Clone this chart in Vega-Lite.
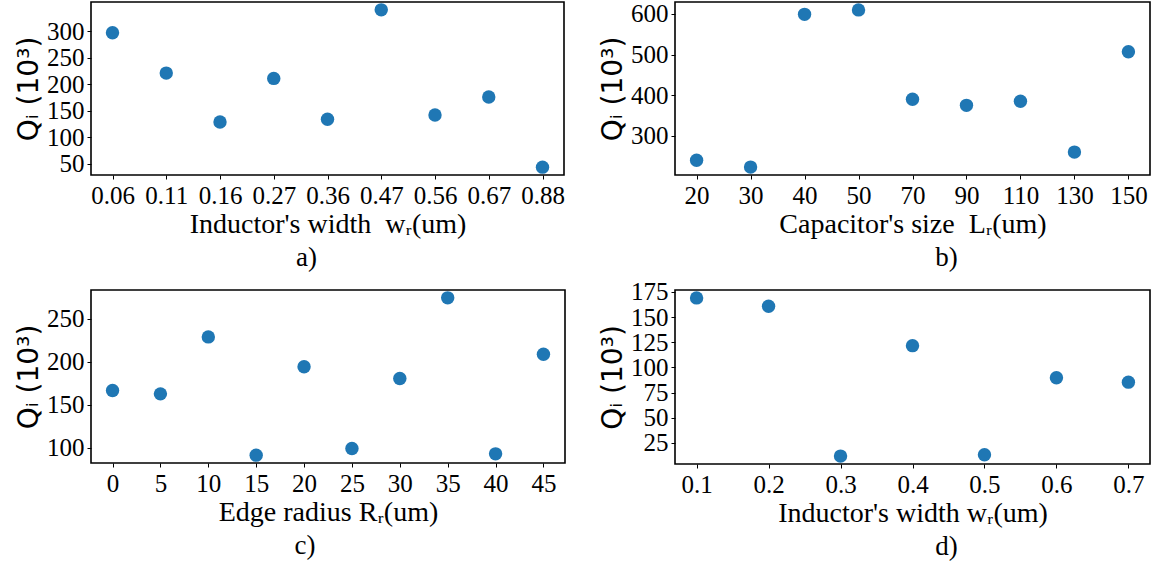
{
  "$schema": "https://vega.github.io/schema/vega-lite/v6.json",
  "padding": {"left": 14, "top": 1, "right": 4, "bottom": 2},
  "background": "white",
  "bounds": "flush",
  "columns": 2,
  "spacing": {"column": 110, "row": 115},
  "datasets": {
    "a": [
      {"w": "0.06", "q": 297}, {"w": "0.11", "q": 221}, {"w": "0.16", "q": 129},
      {"w": "0.27", "q": 211}, {"w": "0.36", "q": 134}, {"w": "0.47", "q": 340},
      {"w": "0.56", "q": 142}, {"w": "0.67", "q": 176}, {"w": "0.88", "q": 44}
    ],
    "b": [
      {"L": "20", "q": 240}, {"L": "30", "q": 223}, {"L": "40", "q": 599},
      {"L": "50", "q": 610}, {"L": "70", "q": 390}, {"L": "90", "q": 375},
      {"L": "110", "q": 385}, {"L": "130", "q": 260}, {"L": "150", "q": 507}
    ],
    "c": [
      {"R": 0, "q": 166.5}, {"R": 5, "q": 162.6}, {"R": 10, "q": 228.7},
      {"R": 15, "q": 91.5}, {"R": 20, "q": 194}, {"R": 25, "q": 99.2},
      {"R": 30, "q": 180.4}, {"R": 35, "q": 274}, {"R": 40, "q": 93},
      {"R": 45, "q": 208.6}
    ],
    "d": [
      {"w": 0.1, "q": 169}, {"w": 0.2, "q": 160.7}, {"w": 0.3, "q": 12},
      {"w": 0.4, "q": 121.6}, {"w": 0.5, "q": 13.4}, {"w": 0.6, "q": 89.7},
      {"w": 0.7, "q": 85.4}
    ]
  },
  "config": {
    "view": {"stroke": "#000000", "strokeWidth": 1.6},
    "axis": {
      "grid": false,
      "domain": false,
      "ticks": true,
      "tickColor": "#000000",
      "tickSize": 4,
      "tickWidth": 1,
      "labelFont": "Liberation Serif",
      "labelFontSize": 25,
      "labelColor": "#000000",
      "labelPadding": 3,
      "titleColor": "#000000",
      "titleFontWeight": "normal"
    },
    "axisX": {
      "labelAngle": 0,
      "titleFont": "Liberation Serif",
      "titleFontSize": 28,
      "titlePadding": 2,
      "labelPadding": 4
    },
    "axisY": {
      "titleFont": "DejaVu Sans",
      "titleFontSize": 28,
      "titlePadding": 3
    },
    "title": {
      "font": "Liberation Serif",
      "fontSize": 27,
      "fontWeight": "normal",
      "color": "#000000",
      "orient": "bottom",
      "anchor": "middle",
      "frame": "group",
      "offset": 7
    },
    "circle": {"size": 180, "color": "#1f77b4", "opacity": 1}
  },
  "concat": [
    {
      "data": {"name": "a"},
      "width": 473,
      "height": 173,
      "title": {"text": "a)", "dx": -21},
      "mark": "circle",
      "encoding": {
        "x": {
          "field": "w", "type": "ordinal", "sort": null,
          "scale": {"type": "point", "padding": 0.4},
          "axis": {"title": "Inductor's width\u00a0\u00a0wᵣ(um)"}
        },
        "y": {
          "field": "q", "type": "quantitative",
          "scale": {"domain": [29.2, 354.8], "nice": false, "zero": false},
          "axis": {"title": "Qᵢ (10³)", "values": [50, 100, 150, 200, 250, 300]}
        }
      }
    },
    {
      "data": {"name": "b"},
      "width": 475,
      "height": 173,
      "title": {"text": "b)", "dx": 34},
      "mark": "circle",
      "encoding": {
        "x": {
          "field": "L", "type": "ordinal", "sort": null,
          "scale": {"type": "point", "padding": 0.4},
          "axis": {"title": "Capacitor's size\u00a0\u00a0Lᵣ(um)"}
        },
        "y": {
          "field": "q", "type": "quantitative",
          "scale": {"domain": [203.6, 629.4], "nice": false, "zero": false},
          "axis": {"title": "Qᵢ (10³)", "values": [300, 400, 500, 600]}
        }
      }
    },
    {
      "data": {"name": "c"},
      "width": 474,
      "height": 173,
      "title": {"text": "c)", "dx": -23},
      "mark": "circle",
      "encoding": {
        "x": {
          "field": "R", "type": "quantitative",
          "scale": {"domain": [-2.25, 47.25], "nice": false, "zero": false},
          "axis": {"title": "Edge radius Rᵣ(um)", "values": [0, 5, 10, 15, 20, 25, 30, 35, 40, 45]}
        },
        "y": {
          "field": "q", "type": "quantitative",
          "scale": {"domain": [82.4, 283.1], "nice": false, "zero": false},
          "axis": {"title": "Qᵢ (10³)", "values": [100, 150, 200, 250]}
        }
      }
    },
    {
      "data": {"name": "d"},
      "width": 475,
      "height": 174,
      "title": {"text": "d)", "dx": 34},
      "mark": "circle",
      "encoding": {
        "x": {
          "field": "w", "type": "quantitative",
          "scale": {"domain": [0.07, 0.73], "nice": false, "zero": false},
          "axis": {"title": "Inductor's width wᵣ(um)", "values": [0.1, 0.2, 0.3, 0.4, 0.5, 0.6, 0.7], "format": ".1f"}
        },
        "y": {
          "field": "q", "type": "quantitative",
          "scale": {"domain": [4.15, 176.85], "nice": false, "zero": false},
          "axis": {"title": "Qᵢ (10³)", "values": [25, 50, 75, 100, 125, 150, 175]}
        }
      }
    }
  ]
}
